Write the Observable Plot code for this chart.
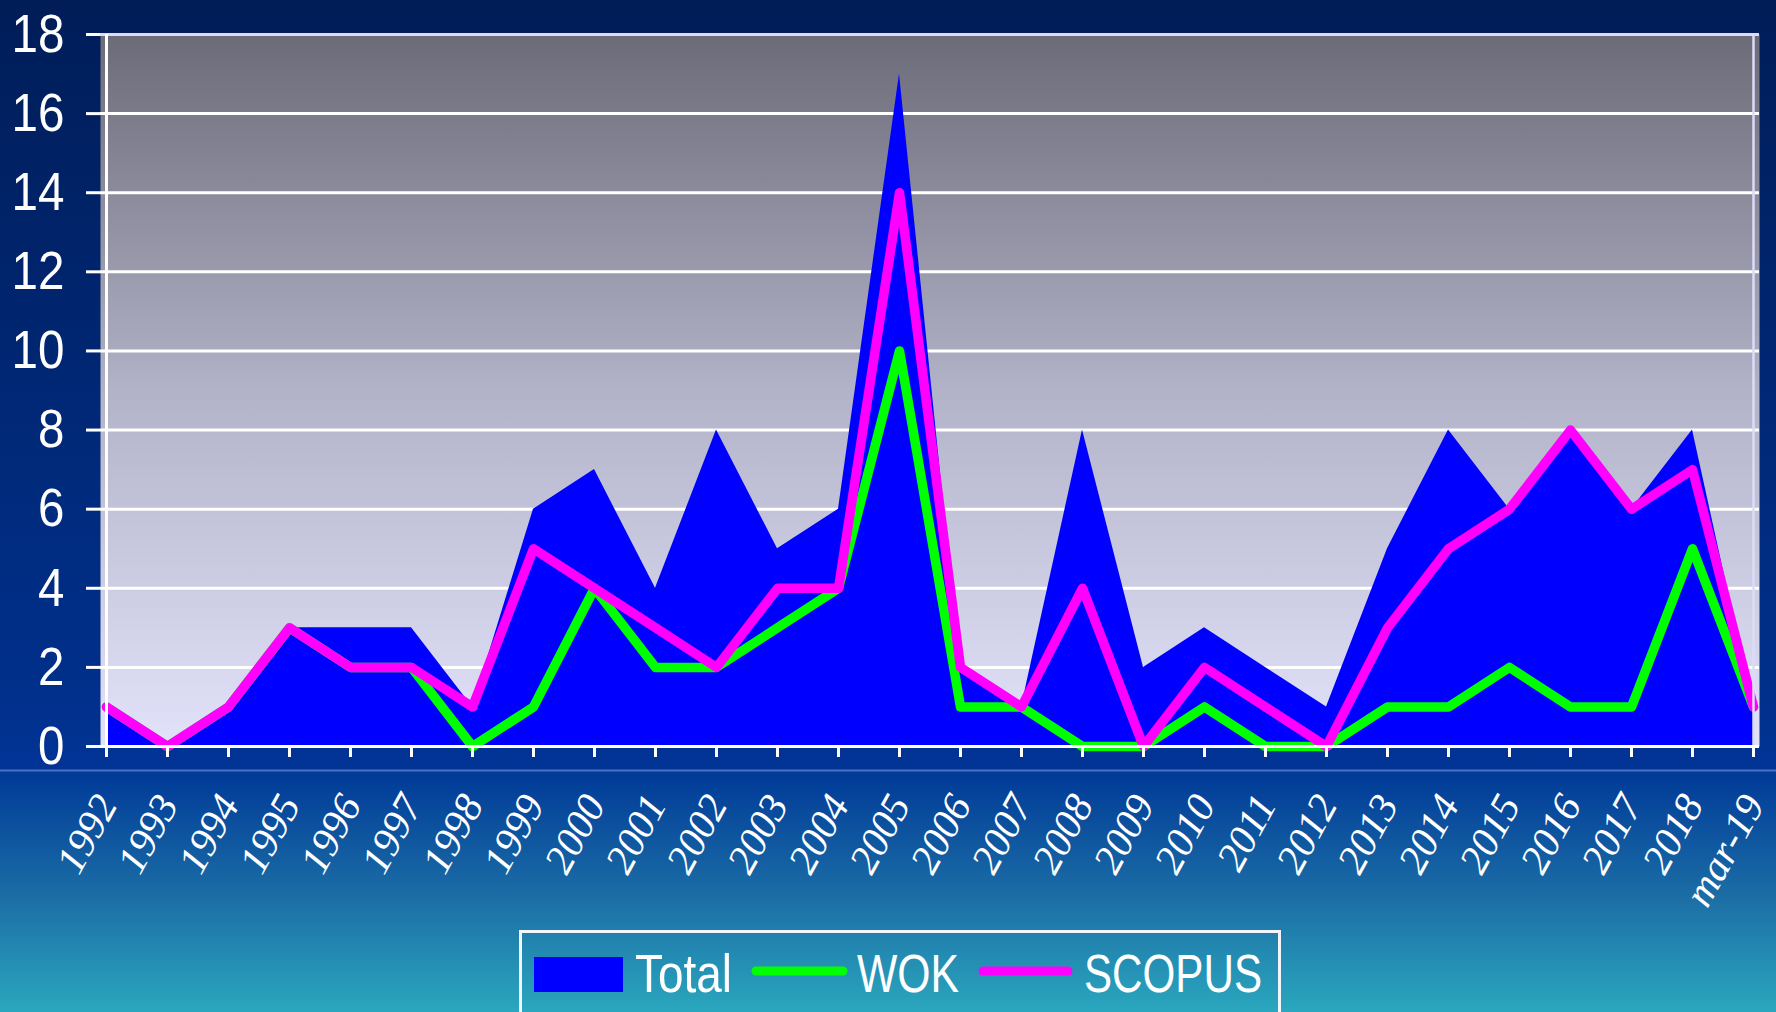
<!DOCTYPE html>
<html><head><meta charset="utf-8">
<script src="https://cdn.jsdelivr.net/npm/d3@7"></script>
<script src="https://cdn.jsdelivr.net/npm/@observablehq/plot@0.6"></script>
<style>
html,body{margin:0;padding:0;}
body{width:1776px;height:1012px;overflow:hidden;
background:linear-gradient(to bottom,#001d58 0px,#00308c 700px,#003496 769px,#4a70c0 770px,#4a70c0 771px,#003a98 772px,#1c6fa6 900px,#2aa7be 1012px);}
#chart svg,#legend svg{display:block}
</style></head><body>
<div id="chart"></div>
<div id="legend"></div>
<script>
const years = ["1992","1993","1994","1995","1996","1997","1998","1999","2000","2001","2002","2003","2004","2005","2006","2007","2008","2009","2010","2011","2012","2013","2014","2015","2016","2017","2018","mar-19"];
const total  = [1,0,1,3,3,3,1,6,7,4,8,5,6,17,2,1,8,2,3,2,1,5,8,6,8,6,8,1];
const wok    = [1,0,1,3,2,2,0,1,4,2,2,3,4,10,1,1,0,0,1,0,0,1,1,2,1,1,5,1];
const scopus = [1,0,1,3,2,2,1,5,4,3,2,4,4,14,2,1,4,0,2,1,0,3,5,6,8,6,7,1];
const yTicks = [0,2,4,6,8,10,12,14,16,18];
const seriesNames = ["Total","WOK","SCOPUS"];
const seriesColors = ["#0000ff","#00ff00","#ff00ff"];

const data = years.map((year,i)=>({year,total:total[i],wok:wok[i],scopus:scopus[i]}));
const SANS = "'Liberation Sans Narrow','Arial Narrow','Liberation Sans',sans-serif";
const SERIF = "'Liberation Serif','Times New Roman',serif";

const chart = Plot.plot({
  width:1776, height:930, marginLeft:100, marginRight:17, marginTop:34, marginBottom:184,
  style:{background:"transparent", color:"white", overflow:"visible"},
  x:{type:"point", domain:years, padding:0},
  y:{domain:[0,18]},
  marks:[
    Plot.frame({fill:"url(#plotBg)", stroke:"none"}),
    Plot.ruleY(yTicks.filter(d=>d>0 && d<18), {stroke:"white", strokeWidth:3}),
    Plot.ruleY([18], {stroke:"#dcdcf8", strokeWidth:3}),
    Plot.areaY(data,{x:"year", y:"total", fill:seriesColors[0]}),
    Plot.lineY(data,{x:"year", y:"wok", stroke:seriesColors[1], strokeWidth:9.5}),
    Plot.lineY(data,{x:"year", y:"scopus", stroke:seriesColors[2], strokeWidth:9.5}),
    Plot.ruleX([years[years.length-1]], {stroke:"#dcdcf8", strokeWidth:2.5}),
    Plot.axisY({ticks:yTicks, tickSize:14, tickPadding:22, stroke:"white", strokeWidth:3, fill:"white", fontSize:54, fontFamily:SANS, label:null}),
    Plot.axisX({tickSize:11, stroke:"white", strokeWidth:3, fill:"none", label:null}),
    Plot.ruleY([0], {stroke:"white", strokeWidth:3}),
    Plot.ruleX([years[0]], {stroke:"white", strokeWidth:3}),
    Plot.text(years, {x:d=>d, frameAnchor:"bottom", text:d=>d, rotate:-61, textAnchor:"end", lineAnchor:"bottom", dx:12, dy:58, fill:"white", fontSize:41, fontFamily:SERIF, fontStyle:"italic"})
  ]
});

// gradient for plot area
const NS = "http://www.w3.org/2000/svg";
const defs = document.createElementNS(NS,"defs");
const lg = document.createElementNS(NS,"linearGradient");
lg.setAttribute("id","plotBg"); lg.setAttribute("x1","0"); lg.setAttribute("y1","0"); lg.setAttribute("x2","0"); lg.setAttribute("y2","1");
[["0%","#6c6b78"],["50%","#b2b2c8"],["100%","#e2e2fa"]].forEach(([o,c])=>{
  const s=document.createElementNS(NS,"stop"); s.setAttribute("offset",o); s.setAttribute("stop-color",c); lg.appendChild(s);
});
defs.appendChild(lg);
chart.insertBefore(defs, chart.firstChild);
document.getElementById("chart").appendChild(chart);

// condense the y tick labels (narrow face is not installed)
d3.select(chart).selectAll('g[aria-label="y-axis tick label"] text').each(function(){
  const w = this.getComputedTextLength();
  this.setAttribute("textLength", (w*0.88).toFixed(1));
  this.setAttribute("lengthAdjust","spacingAndGlyphs");
});

// legend below the chart
const lsvg = d3.select("#legend").append("svg").attr("width",1776).attr("height",82);
lsvg.append("rect").attr("x",520.5).attr("y",1.5).attr("width",759).attr("height",120)
  .attr("fill","none").attr("stroke","#f4f4ff").attr("stroke-width",3);
lsvg.append("rect").attr("x",534).attr("y",27).attr("width",89).attr("height",35).attr("fill",seriesColors[0]);
const lineItems = [{x1:756,x2:843,c:seriesColors[1]},{x1:983,x2:1068,c:seriesColors[2]}];
lineItems.forEach(d=>lsvg.append("line").attr("x1",d.x1).attr("x2",d.x2).attr("y1",41).attr("y2",41)
  .attr("stroke",d.c).attr("stroke-width",9).attr("stroke-linecap","round"));
const textX = [635,857,1084];
const textW = [97,102,178];
seriesNames.forEach((n,i)=>lsvg.append("text").attr("x",textX[i]).attr("y",62).text(n)
  .attr("fill","white").attr("font-size",53).attr("font-family",SANS)
  .attr("textLength",textW[i]).attr("lengthAdjust","spacingAndGlyphs"));
</script>
</body></html>
